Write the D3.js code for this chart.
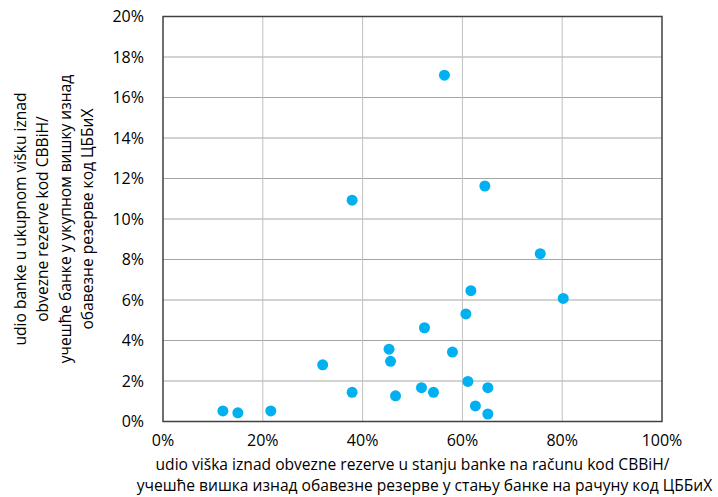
<!DOCTYPE html>
<html>
<head>
<meta charset="utf-8">
<script src="https://cdn.jsdelivr.net/npm/d3@7"></script>
<style>
  body { margin: 0; background: #fff; }
  text { font-family: "Open Sans", sans-serif; fill: #000; }
</style>
</head>
<body>
<div id="chart"></div>
<script>
// udio viška u stanju banke (x) i udio banke u ukupnom višku (y), u %
const xShare = [56.4, 37.9, 52.4, 45.3, 58.0, 45.6, 32.0, 37.9, 51.8, 54.2, 46.6, 12.0, 15.0, 21.6,
                64.5, 75.6, 80.2, 61.7, 60.7, 61.1, 65.1, 62.6, 65.1];
const yShare = [17.1, 10.93, 4.63, 3.57, 3.43, 2.97, 2.8, 1.44, 1.67, 1.44, 1.27, 0.52, 0.43, 0.52,
                11.63, 8.29, 6.08, 6.46, 5.31, 1.98, 1.67, 0.77, 0.37];
const xTicks = [0, 20, 40, 60, 80, 100];
const yTicks = [0, 2, 4, 6, 8, 10, 12, 14, 16, 18, 20];
const xTitle = ["udio viška iznad obvezne rezerve u stanju banke na računu kod CBBiH/",
                "учешће вишка изнад обавезне резерве у стању банке на рачуну код ЦББиХ"];
const yTitle = ["udio banke u ukupnom višku iznad",
                "obvezne rezerve kod CBBiH/",
                "учешће банке у укупном вишку изнад",
                "обавезне резерве код ЦББиХ"];

const width = 718, height = 497;
const margin = {top: 16.5, right: 56, bottom: 75.5, left: 163};

const svg = d3.select("#chart").append("svg")
    .attr("width", width)
    .attr("height", height);

const x = d3.scaleLinear().domain([0, 100]).range([margin.left, width - margin.right]);
const y = d3.scaleLinear().domain([0, 20]).range([height - margin.bottom, margin.top]);

// mreža
svg.append("g").selectAll("line")
    .data(yTicks.slice(1, -1))
    .join("line")
    .attr("x1", x(0)).attr("x2", x(100))
    .attr("y1", d => y(d)).attr("y2", d => y(d))
    .attr("stroke", "#a6a6a6").attr("stroke-width", 1);

svg.append("g").selectAll("line")
    .data(xTicks.slice(1, -1))
    .join("line")
    .attr("x1", d => x(d)).attr("x2", d => x(d))
    .attr("y1", y(0)).attr("y2", y(20))
    .attr("stroke", "#c0c0c0").attr("stroke-width", 1);

// okvir
svg.append("rect")
    .attr("x", x(0)).attr("y", y(20))
    .attr("width", x(100) - x(0)).attr("height", y(0) - y(20))
    .attr("fill", "none").attr("stroke", "#404040").attr("stroke-width", 1.5);

// oznake osa
svg.append("g").selectAll("text")
    .data(yTicks)
    .join("text")
    .attr("x", x(0) - 19)
    .attr("y", d => y(d))
    .attr("dy", "0.35em")
    .attr("text-anchor", "end")
    .style("font-size", "16px")
    .text(d => d + "%");

svg.append("g").selectAll("text")
    .data(xTicks)
    .join("text")
    .attr("x", d => x(d))
    .attr("y", y(0) + 18.5)
    .attr("dy", "0.35em")
    .attr("text-anchor", "middle")
    .style("font-size", "16px")
    .text(d => d + "%");

// naslovi osa
const cx = (x(0) + x(100)) / 2;
svg.append("g").selectAll("text")
    .data(xTitle)
    .join("text")
    .attr("x", (d, i) => cx + i * 12)
    .attr("y", (d, i) => 470 + i * 21)
    .attr("text-anchor", "middle")
    .style("font-size", "15.6px")
    .text(d => d);

const cy = (y(0) + y(20)) / 2;
svg.append("g").selectAll("text")
    .data(yTitle)
    .join("text")
    .attr("transform", (d, i) => `translate(${26 + i * 22.3},${cy}) rotate(-90)`)
    .attr("text-anchor", "middle")
    .style("font-size", "15.6px")
    .text(d => d);

// tačke
svg.append("g").selectAll("circle")
    .data(xShare.map((v, i) => [v, yShare[i]]))
    .join("circle")
    .attr("cx", d => x(d[0]))
    .attr("cy", d => y(d[1]))
    .attr("r", 5.5)
    .attr("fill", "#00b0f0");
</script>
</body>
</html>
